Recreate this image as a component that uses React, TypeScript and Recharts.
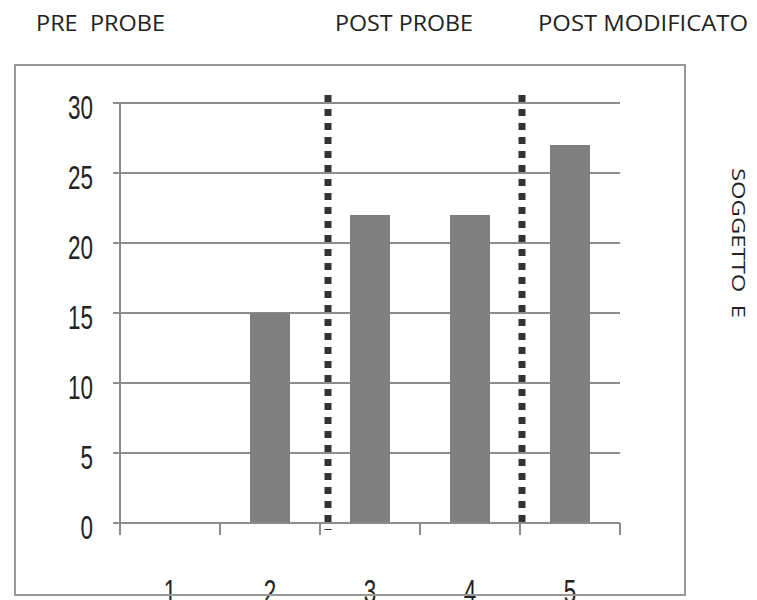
import { Bar, BarChart, CartesianGrid, ReferenceLine, XAxis, YAxis } from "recharts";

const categories = ["1", "2", "3", "4", "5"];
const positions = [1, 2, 3, 4, 5];
const values = [0, 15, 22, 22, 27];
const yTicks = [0, 5, 10, 15, 20, 25, 30];
const xTicks = [0.5, 1, 1.5, 2, 2.5, 3, 3.5, 4, 4.5, 5, 5.5];
const phaseLines = [2.58, 4.52];
const phaseTitles = ["PRE  PROBE", "POST PROBE", "POST MODIFICATO"];
const sideTitle = "SOGGETTO  E";

const data = categories.map((name, i) => ({ name, pos: positions[i], value: values[i] }));

const gray = "#8c8c8c";
const textFont = "'Liberation Sans', Arial, sans-serif";
const titleFont = "'Open Sans', sans-serif";

function NarrowText({ x, y, anchor, children }: any) {
  return (
    <text
      transform={`translate(${x} ${y}) scale(0.68 1)`}
      textAnchor={anchor}
      fontSize={33}
      fontFamily={textFont}
      fill="#222"
      dy="0.36em"
    >
      {children}
    </text>
  );
}

function YTick(props: any) {
  const { x, y, payload } = props;
  return <NarrowText x={x} y={y + 4} anchor="end">{payload.value}</NarrowText>;
}

// whole positions get the category label, half positions get the boundary tick mark
function XTick(props: any) {
  const { x, y, payload } = props;
  const v = payload.value;
  if (Number.isInteger(v)) {
    const label = categories[positions.indexOf(v)];
    return <NarrowText x={x} y={y + 68} anchor="middle">{label}</NarrowText>;
  }
  return <line x1={x} x2={x} y1={y} y2={y + 12} stroke={gray} strokeWidth={2} />;
}

function App() {
  return (
    <div style={{ position: "absolute", left: 0, top: 0, width: 757, height: 600, background: "#fff", overflow: "hidden" }}>
      <BarChart width={757} height={600} data={data} margin={{ top: 103, right: 137, bottom: 47, left: 60 }}>
        <CartesianGrid vertical={false} stroke={gray} strokeWidth={2} />
        <XAxis
          dataKey="pos"
          type="number"
          domain={[0.5, 5.5]}
          allowDataOverflow
          ticks={xTicks}
          interval={0}
          height={30}
          tickSize={0}
          tickMargin={0}
          tickLine={false}
          axisLine={{ stroke: gray, strokeWidth: 2 }}
          tick={<XTick />}
        />
        <YAxis
          domain={[0, 30]}
          ticks={yTicks}
          width={60}
          tickSize={7}
          tickMargin={20}
          interval={0}
          axisLine={{ stroke: gray, strokeWidth: 2 }}
          tickLine={{ stroke: gray, strokeWidth: 2 }}
          tick={<YTick />}
        />
        <Bar dataKey="value" fill="#7f7f7f" barSize={40} isAnimationActive={false} />
        {phaseLines.map((x, i) => (
          <ReferenceLine
            key={x}
            ifOverflow="visible"
            segment={[
              { x, y: 30.57 },
              { x, y: i === 0 ? -0.5 : -0.15 },
            ]}
            stroke="#333"
            strokeWidth={7}
            strokeDasharray="7 7"
          />
        ))}
      </BarChart>
      <svg width={757} height={600} style={{ position: "absolute", left: 0, top: 0, pointerEvents: "none" }}>
        <rect x={15} y={65} width={670} height={530} fill="none" stroke="#999" strokeWidth={2} />
        <text x={36} y={31} fontSize={21} fontFamily={titleFont} fill="#222" textLength={129} lengthAdjust="spacingAndGlyphs" style={{ whiteSpace: "pre" }}>
          {phaseTitles[0]}
        </text>
        <text x={335} y={31} fontSize={21} fontFamily={titleFont} fill="#222" textLength={138} lengthAdjust="spacingAndGlyphs">
          {phaseTitles[1]}
        </text>
        <text x={538} y={31} fontSize={21} fontFamily={titleFont} fill="#222" textLength={210} lengthAdjust="spacingAndGlyphs">
          {phaseTitles[2]}
        </text>
        <text
          x={0}
          y={0}
          fontSize={18}
          fontFamily={titleFont}
          fill="#222"
          textLength={150}
          lengthAdjust="spacingAndGlyphs"
          style={{ whiteSpace: "pre" }}
          transform="translate(732 168) rotate(90)"
        >
          {sideTitle}
        </text>
      </svg>
    </div>
  );
}

export default App;
